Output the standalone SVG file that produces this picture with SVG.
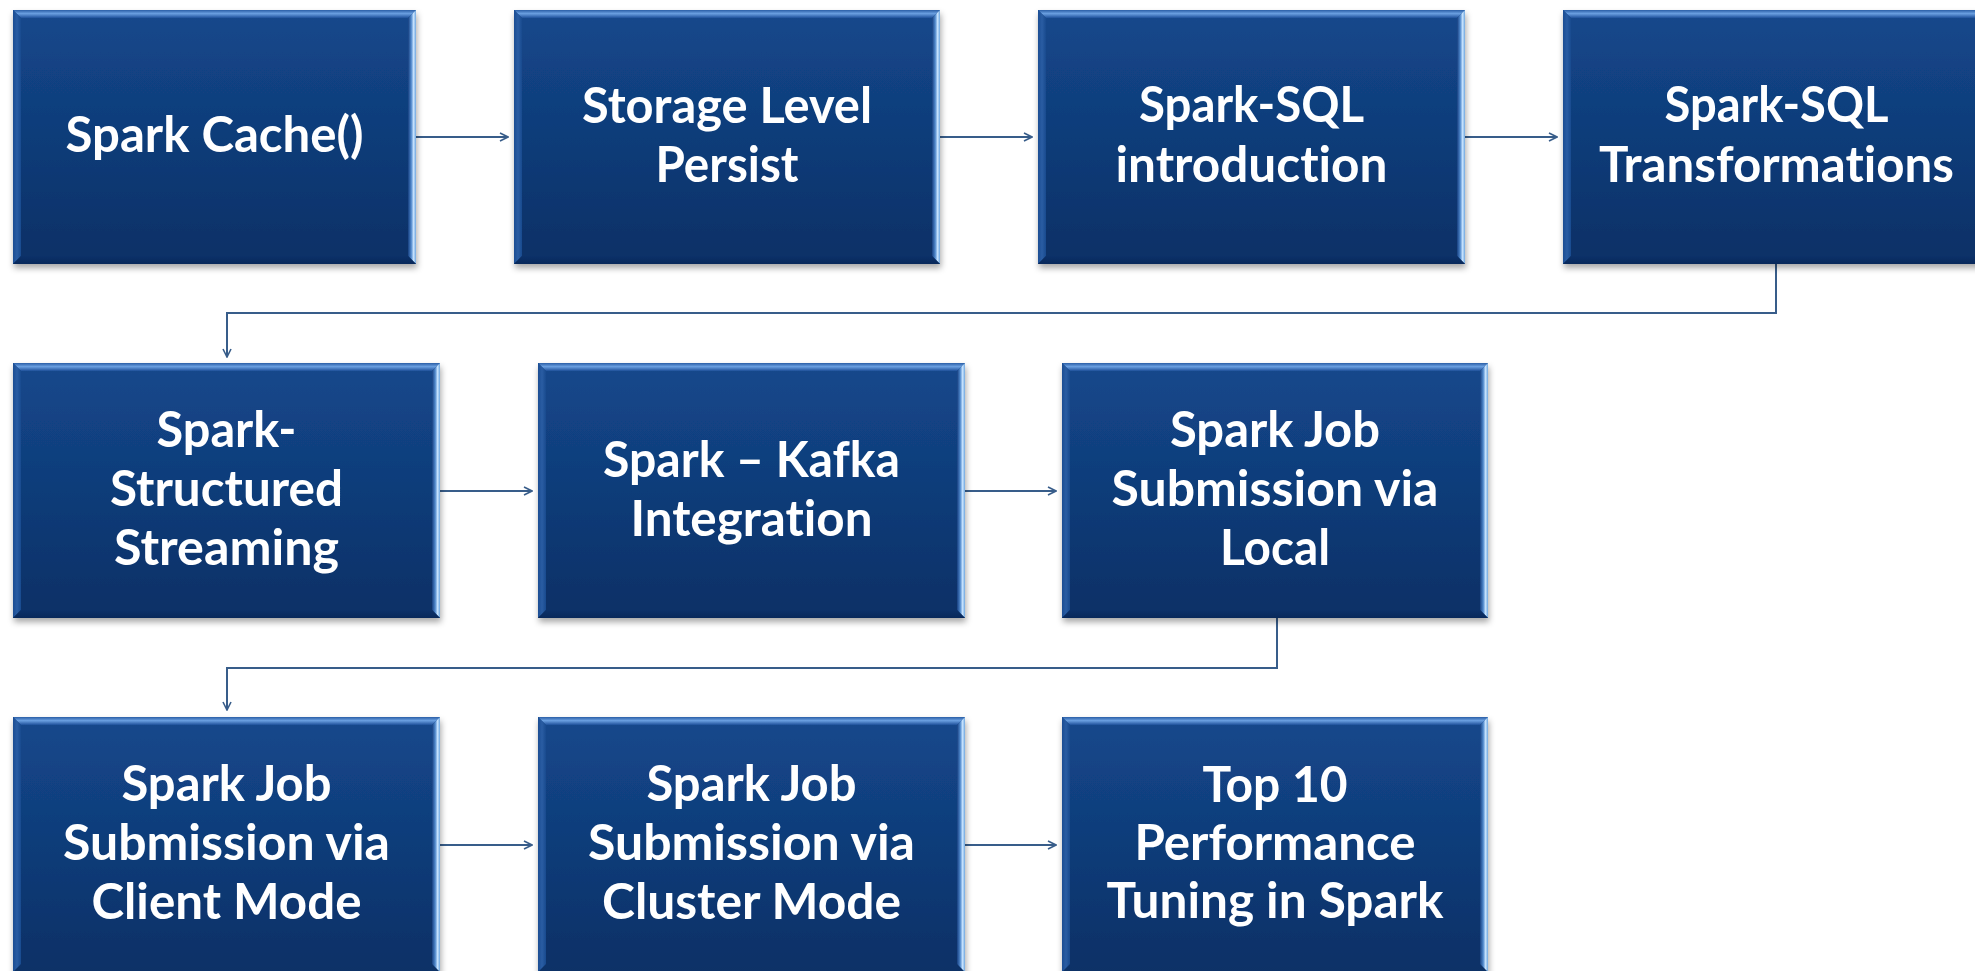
<svg xmlns="http://www.w3.org/2000/svg" width="1975" height="971" viewBox="0 0 1975 971">
<defs>
<linearGradient id="gFill" x1="0" y1="0" x2="0" y2="1">
<stop offset="0" stop-color="#14488c"/>
<stop offset="1" stop-color="#0b3066"/>
</linearGradient>
<linearGradient id="gTop" x1="0" y1="0" x2="0" y2="1">
<stop offset="0" stop-color="#2a5ea6"/>
<stop offset="0.45" stop-color="#6a9fe0"/>
<stop offset="1" stop-color="#1e509a"/>
</linearGradient>
<linearGradient id="gLeft" x1="0" y1="0" x2="1" y2="0">
<stop offset="0" stop-color="#1b4d93"/>
<stop offset="0.5" stop-color="#2a5da3"/>
<stop offset="1" stop-color="#184a8e"/>
</linearGradient>
<linearGradient id="gRight" x1="0" y1="0" x2="1" y2="0">
<stop offset="0" stop-color="#163f80"/>
<stop offset="0.4" stop-color="#4f88cc"/>
<stop offset="0.7" stop-color="#c8e4ff"/>
<stop offset="1" stop-color="#6fa6de"/>
</linearGradient>
<linearGradient id="gBottom" x1="0" y1="0" x2="0" y2="1">
<stop offset="0" stop-color="#0c3169"/>
<stop offset="1" stop-color="#08285a"/>
</linearGradient>
<filter id="shadow" x="-5%" y="-5%" width="110%" height="115%">
<feDropShadow dx="1" dy="4" stdDeviation="3" flood-color="#000" flood-opacity="0.35"/>
</filter>
<marker id="arr" viewBox="0 0 10 10" refX="9" refY="5" markerWidth="10" markerHeight="10" markerUnits="userSpaceOnUse" orient="auto">
<path d="M1,1 L9,5 L1,9" fill="none" stroke="#385d8a" stroke-width="1.6"/>
</marker>
</defs>
<style>
.fill{fill:url(#gFill)}
.bt{fill:url(#gTop)}
.bl{fill:url(#gLeft)}
.br{fill:url(#gRight)}
.bb{fill:url(#gBottom)}
.sh{filter:url(#shadow)}
.lbl{font-family:Lato,"Liberation Sans",sans-serif;font-weight:700;font-size:49px;fill:#ffffff;text-anchor:middle;font-variant-ligatures:none;font-feature-settings:"liga" 0,"clig" 0,"dlig" 0}
.con{fill:none;stroke:#385d8a;stroke-width:2}
</style>
<rect width="1975" height="971" fill="#ffffff"/>

<g id="connectors">
<line class="con" x1="416" y1="137" x2="508" y2="137" marker-end="url(#arr)"/>
<line class="con" x1="940" y1="137" x2="1032" y2="137" marker-end="url(#arr)"/>
<line class="con" x1="1465" y1="137" x2="1557" y2="137" marker-end="url(#arr)"/>
<polyline class="con" points="1776,264 1776,313 227,313 227,357" marker-end="url(#arr)"/>
<line class="con" x1="440" y1="491" x2="532" y2="491" marker-end="url(#arr)"/>
<line class="con" x1="965" y1="491" x2="1056" y2="491" marker-end="url(#arr)"/>
<polyline class="con" points="1277,618 1277,668 227,668 227,710" marker-end="url(#arr)"/>
<line class="con" x1="440" y1="845" x2="532" y2="845" marker-end="url(#arr)"/>
<line class="con" x1="965" y1="845" x2="1056" y2="845" marker-end="url(#arr)"/>
</g>

<g id="n1">
<g class="sh"><rect class="fill" x="13" y="10" width="403" height="254"/></g>
<polygon class="bt" points="13,10 416,10 408,18 21,18"/>
<polygon class="bl" points="13,10 21,18 21,256 13,264"/>
<polygon class="br" points="416,10 416,264 408,256 408,18"/>
<polygon class="bb" points="13,264 416,264 408,256 21,256"/>
<text class="lbl" x="214.5" y="152" textLength="298" lengthAdjust="spacingAndGlyphs">Spark Cache()</text>
</g>

<g id="n2">
<g class="sh"><rect class="fill" x="514" y="10" width="426" height="254"/></g>
<polygon class="bt" points="514,10 940,10 932,18 522,18"/>
<polygon class="bl" points="514,10 522,18 522,256 514,264"/>
<polygon class="br" points="940,10 940,264 932,256 932,18"/>
<polygon class="bb" points="514,264 940,264 932,256 522,256"/>
<text class="lbl" x="727" y="123" textLength="290" lengthAdjust="spacingAndGlyphs">Storage Level</text>
<text class="lbl" x="727" y="182" textLength="143" lengthAdjust="spacingAndGlyphs">Persist</text>
</g>

<g id="n3">
<g class="sh"><rect class="fill" x="1038" y="10" width="427" height="254"/></g>
<polygon class="bt" points="1038,10 1465,10 1457,18 1046,18"/>
<polygon class="bl" points="1038,10 1046,18 1046,256 1038,264"/>
<polygon class="br" points="1465,10 1465,264 1457,256 1457,18"/>
<polygon class="bb" points="1038,264 1465,264 1457,256 1046,256"/>
<text class="lbl" x="1251.5" y="122" textLength="225" lengthAdjust="spacingAndGlyphs">Spark-SQL</text>
<text class="lbl" x="1251.5" y="182" textLength="272" lengthAdjust="spacingAndGlyphs">introduction</text>
</g>

<g id="n4">
<g class="sh"><rect class="fill" x="1563" y="10" width="427" height="254"/></g>
<polygon class="bt" points="1563,10 1990,10 1982,18 1571,18"/>
<polygon class="bl" points="1563,10 1571,18 1571,256 1563,264"/>
<polygon class="br" points="1990,10 1990,264 1982,256 1982,18"/>
<polygon class="bb" points="1563,264 1990,264 1982,256 1571,256"/>
<text class="lbl" x="1776.5" y="122" textLength="224" lengthAdjust="spacingAndGlyphs">Spark-SQL</text>
<text class="lbl" x="1776.5" y="182" textLength="355" lengthAdjust="spacingAndGlyphs">Transformations</text>
</g>

<g id="n5">
<g class="sh"><rect class="fill" x="13" y="363" width="427" height="255"/></g>
<polygon class="bt" points="13,363 440,363 432,371 21,371"/>
<polygon class="bl" points="13,363 21,371 21,610 13,618"/>
<polygon class="br" points="440,363 440,618 432,610 432,371"/>
<polygon class="bb" points="13,618 440,618 432,610 21,610"/>
<text class="lbl" x="226.5" y="447" textLength="140" lengthAdjust="spacingAndGlyphs">Spark-</text>
<text class="lbl" x="226.5" y="506" textLength="233" lengthAdjust="spacingAndGlyphs">Structured</text>
<text class="lbl" x="226.5" y="565" textLength="225" lengthAdjust="spacingAndGlyphs">Streaming</text>
</g>

<g id="n6">
<g class="sh"><rect class="fill" x="538" y="363" width="427" height="255"/></g>
<polygon class="bt" points="538,363 965,363 957,371 546,371"/>
<polygon class="bl" points="538,363 546,371 546,610 538,618"/>
<polygon class="br" points="965,363 965,618 957,610 957,371"/>
<polygon class="bb" points="538,618 965,618 957,610 546,610"/>
<text class="lbl" x="751.5" y="477" textLength="297" lengthAdjust="spacingAndGlyphs">Spark – Kafka</text>
<text class="lbl" x="751.5" y="536" textLength="242" lengthAdjust="spacingAndGlyphs">Integration</text>
</g>

<g id="n7">
<g class="sh"><rect class="fill" x="1062" y="363" width="426" height="255"/></g>
<polygon class="bt" points="1062,363 1488,363 1480,371 1070,371"/>
<polygon class="bl" points="1062,363 1070,371 1070,610 1062,618"/>
<polygon class="br" points="1488,363 1488,618 1480,610 1480,371"/>
<polygon class="bb" points="1062,618 1488,618 1480,610 1070,610"/>
<text class="lbl" x="1275" y="447" textLength="210" lengthAdjust="spacingAndGlyphs">Spark Job</text>
<text class="lbl" x="1275" y="506" textLength="327" lengthAdjust="spacingAndGlyphs">Submission via</text>
<text class="lbl" x="1275" y="565" textLength="110" lengthAdjust="spacingAndGlyphs">Local</text>
</g>

<g id="n8">
<g class="sh"><rect class="fill" x="13" y="717" width="427" height="255"/></g>
<polygon class="bt" points="13,717 440,717 432,725 21,725"/>
<polygon class="bl" points="13,717 21,725 21,964 13,972"/>
<polygon class="br" points="440,717 440,972 432,964 432,725"/>
<text class="lbl" x="226.5" y="801" textLength="210" lengthAdjust="spacingAndGlyphs">Spark Job</text>
<text class="lbl" x="226.5" y="860" textLength="327" lengthAdjust="spacingAndGlyphs">Submission via</text>
<text class="lbl" x="226.5" y="919" textLength="270" lengthAdjust="spacingAndGlyphs">Client Mode</text>
</g>

<g id="n9">
<g class="sh"><rect class="fill" x="538" y="717" width="427" height="255"/></g>
<polygon class="bt" points="538,717 965,717 957,725 546,725"/>
<polygon class="bl" points="538,717 546,725 546,964 538,972"/>
<polygon class="br" points="965,717 965,972 957,964 957,725"/>
<text class="lbl" x="751.5" y="801" textLength="210" lengthAdjust="spacingAndGlyphs">Spark Job</text>
<text class="lbl" x="751.5" y="860" textLength="327" lengthAdjust="spacingAndGlyphs">Submission via</text>
<text class="lbl" x="751.5" y="919" textLength="299" lengthAdjust="spacingAndGlyphs">Cluster Mode</text>
</g>

<g id="n10">
<g class="sh"><rect class="fill" x="1062" y="717" width="426" height="255"/></g>
<polygon class="bt" points="1062,717 1488,717 1480,725 1070,725"/>
<polygon class="bl" points="1062,717 1070,725 1070,964 1062,972"/>
<polygon class="br" points="1488,717 1488,972 1480,964 1480,725"/>
<text class="lbl" x="1275" y="802" textLength="145" lengthAdjust="spacingAndGlyphs">Top 10</text>
<text class="lbl" x="1275" y="860" textLength="281" lengthAdjust="spacingAndGlyphs">Performance</text>
<text class="lbl" x="1275" y="918" textLength="337" lengthAdjust="spacingAndGlyphs">Tuning in Spark</text>
</g>
</svg>
